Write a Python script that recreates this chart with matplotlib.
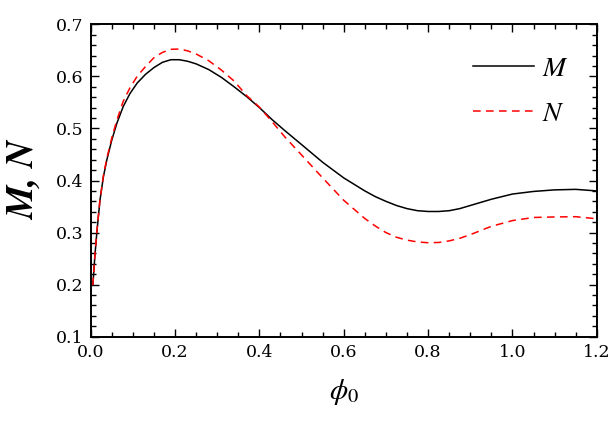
import matplotlib
matplotlib.use("Agg")
import matplotlib.pyplot as plt
from matplotlib.ticker import MultipleLocator

phi0 = [0.005, 0.010, 0.015, 0.022, 0.030, 0.038, 0.050, 0.062, 0.077, 0.093,
        0.11, 0.13, 0.15, 0.17, 0.19, 0.21, 0.23, 0.25, 0.28, 0.31,
        0.34, 0.37, 0.40, 0.43, 0.46, 0.50, 0.55, 0.60, 0.65, 0.675,
        0.70, 0.725, 0.75, 0.775, 0.80, 0.825, 0.85, 0.875, 0.90, 0.95,
        1.00, 1.05, 1.10, 1.15, 1.20]
M_vals = [0.199, 0.257, 0.305, 0.3625, 0.407, 0.439, 0.478, 0.510, 0.542, 0.567,
          0.587, 0.604, 0.617, 0.627, 0.632, 0.632, 0.629, 0.624, 0.613, 0.598,
          0.580, 0.561, 0.540, 0.517, 0.496, 0.469, 0.435, 0.405, 0.380, 0.369,
          0.360, 0.352, 0.346, 0.342, 0.3405, 0.3405, 0.342, 0.346, 0.352, 0.364,
          0.374, 0.379, 0.382, 0.383, 0.380]
N_vals = [0.199, 0.258, 0.306, 0.364, 0.409, 0.442, 0.482, 0.516, 0.552, 0.578,
          0.600, 0.619, 0.636, 0.646, 0.652, 0.6525, 0.649, 0.643, 0.630, 0.612,
          0.591, 0.563, 0.541, 0.513, 0.484, 0.449, 0.405, 0.362, 0.327, 0.3125,
          0.300, 0.291, 0.2855, 0.282, 0.2805, 0.281, 0.284, 0.289, 0.296, 0.312,
          0.323, 0.329, 0.330, 0.3305, 0.3265]

xticks = [0.0, 0.2, 0.4, 0.6, 0.8, 1.0, 1.2]
yticks = [0.1, 0.2, 0.3, 0.4, 0.5, 0.6, 0.7]

plt.rcParams['mathtext.fontset'] = 'stix'

fig = plt.figure(figsize=(6.11, 4.28), dpi=100)
ax = fig.add_axes([0.1485, 0.2133, 0.8282, 0.7299])

ax.plot(phi0, M_vals, color='black', lw=1.1, label=r'$M$')
ax.plot(phi0, N_vals, color='red', lw=1.1, ls=(0, (5, 3.5)), label=r'$N$')

ax.set_xlim(0, 1.2)
ax.set_ylim(0.1, 0.7)
ax.set_xticks(xticks)
ax.set_yticks(yticks)
ax.set_xticklabels([f"{t:.1f}" for t in xticks])
ax.set_yticklabels([f"{t:.1f}" for t in yticks])
ax.xaxis.set_minor_locator(MultipleLocator(0.05))
ax.yaxis.set_minor_locator(MultipleLocator(0.02))
ax.tick_params(which='both', direction='in', top=True, right=True, width=1.0,
               labelsize=12.5, pad=5)
ax.tick_params(which='major', length=6)
ax.tick_params(which='minor', length=3.5)
for lab in ax.get_xticklabels() + ax.get_yticklabels():
    lab.set_family('DejaVu Serif')
for s in ax.spines.values():
    s.set_linewidth(1.4)

ax.set_xlabel(r'$\phi_0$', fontsize=21, labelpad=12)
ax.set_ylabel('M, N', fontsize=27, family='STIXGeneral', style='italic',
              weight='bold', labelpad=10)

leg = ax.legend(loc='upper left', bbox_to_anchor=(0.7555, 0.905), frameon=False,
                fontsize=20, handlelength=2.2, handletextpad=0.3,
                labelspacing=0.6, borderpad=0, borderaxespad=0)

fig.savefig('out.png', dpi=100)
